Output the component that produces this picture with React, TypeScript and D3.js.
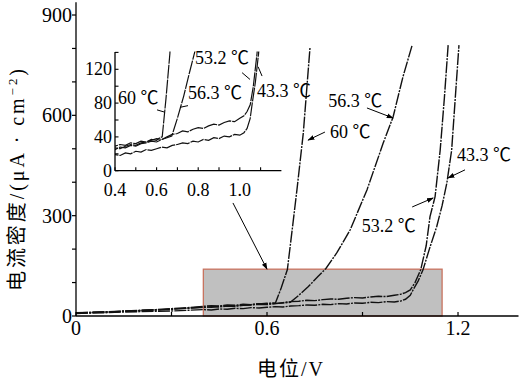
import React from 'react';
import * as d3 from 'd3';

// ---------- data ----------
const t43V = [0, 0.05, 0.1, 0.15, 0.2, 0.25, 0.3, 0.35, 0.4, 0.425, 0.45, 0.475, 0.5, 0.525, 0.55, 0.575, 0.6, 0.625, 0.65, 0.675, 0.7, 0.725, 0.75, 0.775, 0.8, 0.825, 0.85, 0.875, 0.9, 0.925, 0.95, 0.975, 1.0, 1.02, 1.035, 1.05, 1.06, 1.075, 1.09, 1.11, 1.133, 1.15, 1.165, 1.18, 1.203];
const t43I = [7, 9, 10, 12, 13, 14, 15, 17, 19, 18, 21, 20, 23, 22, 25, 24, 26, 28, 27, 30, 31, 33, 32, 35, 34, 37, 36, 39, 38, 41, 40, 43, 42, 45, 50, 62, 80, 105, 138, 200, 267, 330, 398, 496, 810];

const t53V = [0, 0.05, 0.1, 0.15, 0.2, 0.25, 0.3, 0.35, 0.4, 0.425, 0.45, 0.475, 0.5, 0.525, 0.55, 0.575, 0.6, 0.625, 0.65, 0.675, 0.7, 0.725, 0.75, 0.775, 0.8, 0.825, 0.85, 0.875, 0.9, 0.925, 0.95, 0.975, 1.0, 1.02, 1.035, 1.05, 1.065, 1.083, 1.1, 1.112, 1.128, 1.144, 1.157, 1.169];
const t53I = [9, 11, 12, 14, 16, 18, 20, 23, 27, 26, 29, 31, 30, 33, 34, 36, 38, 37, 40, 43, 44, 47, 46, 49, 51, 50, 53, 55, 54, 57, 59, 58, 62, 65, 70, 78, 100, 139, 210, 297, 357, 496, 650, 810];

const t56V = [0, 0.05, 0.1, 0.15, 0.2, 0.25, 0.3, 0.35, 0.4, 0.425, 0.45, 0.475, 0.5, 0.525, 0.55, 0.575, 0.6, 0.625, 0.65, 0.673, 0.7, 0.73, 0.76, 0.785, 0.82, 0.861, 0.914, 0.965, 0.996, 1.027, 1.056];
const t56I = [8, 10, 12, 14, 16, 18, 21, 23, 25, 28, 27, 30, 29, 32, 33, 35, 34, 37, 39, 41, 62, 88, 118, 142, 190, 257, 377, 517, 595, 715, 810];

const t60V = [0, 0.05, 0.1, 0.15, 0.2, 0.25, 0.3, 0.35, 0.4, 0.425, 0.45, 0.475, 0.5, 0.525, 0.55, 0.575, 0.6, 0.615, 0.627, 0.645, 0.664, 0.68, 0.694, 0.714, 0.735];
const t60I = [10, 11, 13, 15, 17, 19, 22, 25, 29, 31, 30, 33, 32, 35, 34, 37, 36, 39, 40, 85, 139, 265, 377, 547, 802];

const seriesV = [t43V, t53V, t56V, t60V];
const seriesI = [t43I, t53I, t56I, t60I];

const xTicksMain = [0, 0.3, 0.6, 0.9, 1.2];
const xLabelsMain = [0, 0.6, 1.2];
const yTicksMain = [0, 100, 200, 300, 400, 500, 600, 700, 800, 900];
const yLabelsMain = [0, 300, 600, 900];

const xTicksInset = [0.4, 0.5, 0.6, 0.7, 0.8, 0.9, 1.0, 1.1];
const xLabelsInset = [0.4, 0.6, 0.8, 1.0];
const yTicksInset = [0, 20, 40, 60, 80, 100, 120, 140];
const yLabelsInset = [0, 40, 80, 120];

// zoom region (V, μA·cm⁻²)
const zoomX = [0.4, 1.15];
const zoomY = [0, 140];

// annotations: text, text pos, leader from, leader to (data units)
const mainNotes = [
  { t: '60 ℃', tx: 0.798, ty: 532, ax: [0.782, 550], at: [0.729, 526] },
  { t: '56.3 ℃', tx: 0.792, ty: 625, ax: [0.914, 622], at: [0.996, 592] },
  { t: '43.3 ℃', tx: 1.197, ty: 463, ax: [1.222, 437], at: [1.169, 413] },
  { t: '53.2 ℃', tx: 0.898, ty: 251, ax: [1.056, 326], at: [1.122, 353] },
];
const insetNotes = [
  { t: '60 ℃', tx: 0.414, ty: 79, ax: [0.602, 72], at: [0.636, 69.5] },
  { t: '56.3 ℃', tx: 0.751, ty: 85, ax: [0.713, 75], at: [0.751, 77] },
  { t: '53.2 ℃', tx: 0.785, ty: 126, ax: [1.011, 116], at: [1.049, 108] },
  { t: '43.3 ℃', tx: 1.083, ty: 87, ax: [1.088, 123], at: [1.107, 112] },
];
const zoomArrow = { from: [0.493, 338], to: [0.6, 140] };

// ---------- layout ----------
const W = 520, H = 382;
const FONT = "'Liberation Serif', 'Noto Sans CJK SC', serif";
const TS = { fontFamily: FONT };

export default function App() {
  const x = d3.scaleLinear().domain([0, 1.39]).range([76, 518.5]);
  const y = d3.scaleLinear().domain([0, 938]).range([316, 2.3]);
  const xi = d3.scaleLinear().domain([0.4, 1.2]).range([115, 281.4]);
  const yi = d3.scaleLinear().domain([0, 140]).range([170.7, 52.4]);

  const lineMain = d3.line<[number, number]>().x(d => x(d[0])).y(d => y(d[1]));
  const lineInset = d3.line<[number, number]>().x(d => xi(d[0])).y(d => yi(d[1]));

  const pts = seriesV.map((vs, k) => vs.map((v, j) => [v, seriesI[k][j]] as [number, number]));

  const fmtMain = (t: number) => (t === 0 ? '0' : t.toFixed(1));

  return (
    <svg width={W} height={H} style={{ position: 'absolute', left: 0, top: 0, background: '#fff' }}>
      <defs>
        <marker id="ah" viewBox="0 0 10 10" refX="9" refY="5" markerWidth="7" markerHeight="7" orient="auto">
          <path d="M0,1.5 L10,5 L0,8.5 Z" fill="#000" />
        </marker>
        <clipPath id="insetClip">
          <rect x={xi(0.4)} y={yi(140) - 1} width={xi(1.2) - xi(0.4)} height={yi(0) - yi(140) + 1} />
        </clipPath>
      </defs>
      <rect x={0} y={0} width={W} height={H} fill="#fff" />

      {/* zoom region rectangle */}
      <rect x={x(zoomX[0])} y={y(zoomY[1])} width={x(zoomX[1]) - x(zoomX[0])} height={y(zoomY[0]) - y(zoomY[1])}
        fill="#c0c0c0" stroke="#c8735f" strokeWidth={1.3} />

      {/* main curves */}
      {pts.map((p, k) => (
        <path key={k} d={lineMain(p) || ''} fill="none" stroke="#111" strokeWidth={1.4} strokeDasharray="12 1.2 2 1.2" />
      ))}

      {/* main axes */}
      <line x1={x(0)} x2={x(1.39)} y1={y(0)} y2={y(0)} stroke="#000" strokeWidth={1.3} />
      <line x1={x(0)} x2={x(0)} y1={y(0)} y2={y(938)} stroke="#000" strokeWidth={1.3} />
      {xTicksMain.map(t => (
        <line key={t} x1={x(t)} x2={x(t)} y1={y(0)} y2={y(0) - 4} stroke="#000" strokeWidth={1.2} />
      ))}
      {xLabelsMain.map(t => (
        <text key={t} x={x(t)} y={y(0) + 19} fontSize={20} textAnchor="middle" style={TS}>{fmtMain(t)}</text>
      ))}
      {yTicksMain.map(t => (
        <line key={t} x1={x(0) - 4} x2={x(0)} y1={y(t)} y2={y(t)} stroke="#000" strokeWidth={1.2} />
      ))}
      {yLabelsMain.map(t => (
        <text key={t} x={x(0) - 4} y={y(t) + 7} fontSize={20} textAnchor="end" style={TS}>{t}</text>
      ))}
      <text x={291} y={376} fontSize={20} textAnchor="middle" style={{ ...TS, letterSpacing: 2 }}>电位/V</text>
      <text transform="translate(24,180) rotate(-90)" fontSize={20} textAnchor="middle" style={TS}
        textLength={222} lengthAdjust="spacing">
        电流密度/(μA · cm<tspan dy={-7} fontSize={13}>−2</tspan><tspan dy={7}>)</tspan>
      </text>

      {/* main annotations */}
      {mainNotes.map((n, i) => (
        <g key={i}>
          <text x={x(n.tx)} y={y(n.ty)} fontSize={18} style={TS}>{n.t}</text>
          <line x1={x(n.ax[0])} y1={y(n.ax[1])} x2={x(n.at[0])} y2={y(n.at[1])} stroke="#000" strokeWidth={1} markerEnd="url(#ah)" />
        </g>
      ))}
      <line x1={x(zoomArrow.from[0])} y1={y(zoomArrow.from[1])} x2={x(zoomArrow.to[0])} y2={y(zoomArrow.to[1])}
        stroke="#000" strokeWidth={1} markerEnd="url(#ah)" />

      {/* inset */}
      <g clipPath="url(#insetClip)">
        {pts.map((p, k) => (
          <path key={k} d={lineInset(p.filter(d => d[0] >= 0.35)) || ''} fill="none" stroke="#111" strokeWidth={1.2} strokeDasharray="14 1" />
        ))}
      </g>
      <line x1={xi(0.4)} x2={xi(1.2)} y1={yi(0)} y2={yi(0)} stroke="#000" strokeWidth={1.3} />
      <line x1={xi(0.4)} x2={xi(0.4)} y1={yi(0)} y2={yi(140) - 0.5} stroke="#000" strokeWidth={1.3} />
      {xTicksInset.map(t => (
        <line key={t} x1={xi(t)} x2={xi(t)} y1={yi(0)} y2={yi(0) - 3.5} stroke="#000" strokeWidth={1.1} />
      ))}
      {xLabelsInset.map(t => (
        <text key={t} x={xi(t)} y={196} fontSize={18} textAnchor="middle" style={TS}>{t.toFixed(1)}</text>
      ))}
      {yTicksInset.map(t => (
        <line key={t} x1={xi(0.4)} x2={xi(0.4) + 3.5} y1={yi(t)} y2={yi(t)} stroke="#000" strokeWidth={1.1} />
      ))}
      {yLabelsInset.map(t => (
        <text key={t} x={xi(0.4) - 3} y={yi(t) + 6} fontSize={18} textAnchor="end" style={TS}>{t}</text>
      ))}
      {insetNotes.map((n, i) => (
        <g key={i}>
          <text x={xi(n.tx)} y={yi(n.ty)} fontSize={18} style={TS}>{n.t}</text>
          <line x1={xi(n.ax[0])} y1={yi(n.ax[1])} x2={xi(n.at[0])} y2={yi(n.at[1])} stroke="#000" strokeWidth={1} />
        </g>
      ))}
    </svg>
  );
}
